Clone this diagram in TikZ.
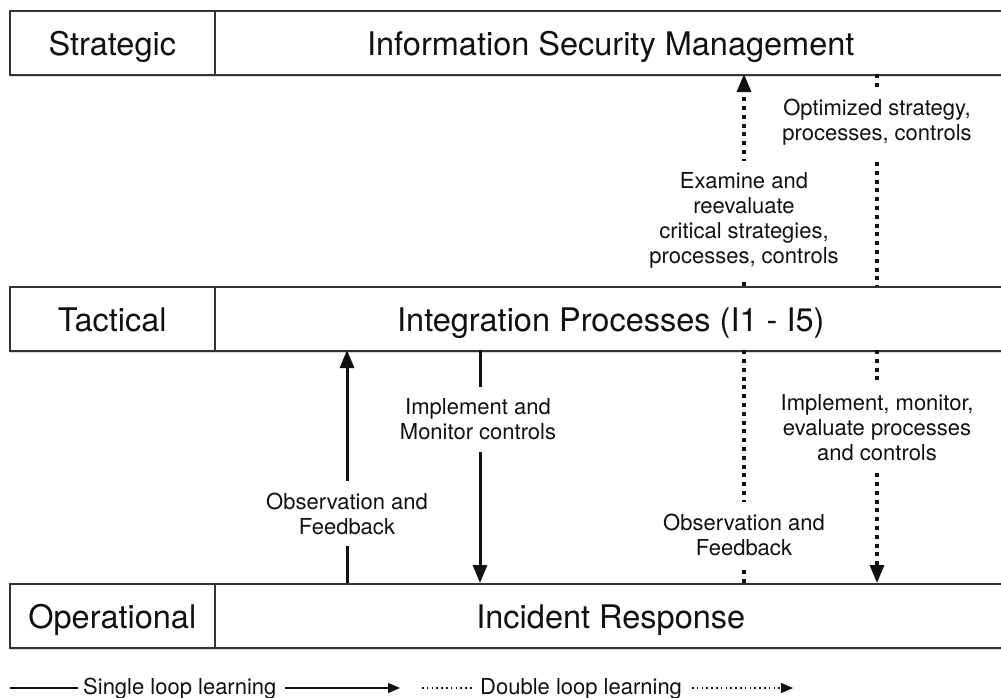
\documentclass[tikz,border=0pt]{standalone}
\usepackage{fontspec}
\setmainfont{TeX Gyre Heros}
\usetikzlibrary{arrows.meta,shadows}
\definecolor{boxline}{HTML}{333333}
\definecolor{ink}{HTML}{111111}
\begin{document}
\begin{tikzpicture}[x=1pt,y=1pt,
  cell/.style={draw=boxline,line width=1.6pt,fill=white,minimum height=64pt,
    inner sep=0pt,anchor=north west,text=ink,
    font=\fontsize{32.5}{36}\selectfont,text height=26pt,text depth=0pt,
    drop shadow={opacity=0.3,shadow xshift=0pt,shadow yshift=-2pt}},
  lbl/.style={fill=white,align=center,text=ink,inner xsep=3pt,inner ysep=12pt,
    font=\fontsize{22}{25}\selectfont},
  solidarrow/.style={line width=3pt,draw=ink},
  dotline/.style={line width=3.2pt,draw=ink,dash pattern=on 4pt off 4.8pt},
  bigtip/.style={-{Triangle[width=14pt,length=18pt]}},
  legtext/.style={anchor=base west,inner sep=0pt,text=ink,font=\fontsize{22}{25}\selectfont},
  legline/.style={line width=1.4pt,draw=ink},
  legdots/.style={line width=1.4pt,draw=ink,dash pattern=on 1.5pt off 3.3pt},
  smalltip/.style={-{Triangle[width=10pt,length=12pt]}}
]
\clip (0,0) rectangle (1001,-697);
\fill[white] (0,0) rectangle (1001,-697);

% rows
\node[cell,minimum width=205pt] (strat) at (9,-10) {Strategic};
\node[cell,minimum width=792pt] (ism) at (214,-10) {Information Security Management};
\node[cell,minimum width=205pt] (tact) at (9,-286) {Tactical};
\node[cell,minimum width=792pt] (ip) at (214,-286) {Integration Processes (I1 - I5)};
\node[cell,minimum width=205pt] (oper) at (9,-583) {Operational};
\node[cell,minimum width=792pt] (ir) at (214,-583) {Incident Response};

% connector end points on the boxes
\coordinate (a1s) at (347,-583); \coordinate (a1e) at (347,-350);
\coordinate (a2s) at (480,-350); \coordinate (a2e) at (480,-583);
\coordinate (a3s) at (744,-286); \coordinate (a3e) at (744,-74);
\coordinate (a4s) at (877,-74);  \coordinate (a4e) at (877,-286);
\coordinate (a5s) at (744,-583); \coordinate (a5e) at (744,-350);
\coordinate (a6s) at (877,-350); \coordinate (a6e) at (877,-583);

% connectors
\draw[solidarrow,bigtip] (a1s) -- (a1e);
\draw[solidarrow,bigtip] (a2s) -- (a2e);
\draw[dotline,bigtip] (a3s) -- (a3e);
\draw[dotline] (a4s) -- (a4e);
\draw[dotline] (a5s) -- (a5e);
\draw[dotline,bigtip] (a6s) -- (a6e);

% labels
\node[lbl] (l1) at (347,-513.5) {Observation and\\Feedback};
\node[lbl] (l2) at (478,-419.5) {Implement and\\Monitor controls};
\node[lbl] (l3) at (744,-220.5) {Examine and\\reevaluate\\critical strategies,\\processes, controls};
\node[lbl] (l4) at (877,-122.5) {Optimized strategy,\\processes, controls};
\node[lbl] (l5) at (744,-535) {Observation and\\Feedback};
\node[lbl] (l6) at (877,-427.5) {Implement, monitor,\\evaluate processes\\and controls};

% legend
\node[legtext] (single) at (83,-694) {Single loop learning};
\node[legtext] (double) at (480,-694) {Double loop learning};
\coordinate (s0) at (10,-688);  \coordinate (s1) at (78,-688);
\coordinate (s2) at (285,-688); \coordinate (s3) at (400,-688);
\coordinate (d0) at (422,-688); \coordinate (d1) at (473,-688);
\coordinate (d2) at (692,-688); \coordinate (d3) at (793,-688);
\draw[legline] (s0) -- (s1);
\draw[legline,smalltip] (s2) -- (s3);
\draw[legdots] (d0) -- (d1);
\draw[legdots,smalltip] (d2) -- (d3);
\end{tikzpicture}
\end{document}
